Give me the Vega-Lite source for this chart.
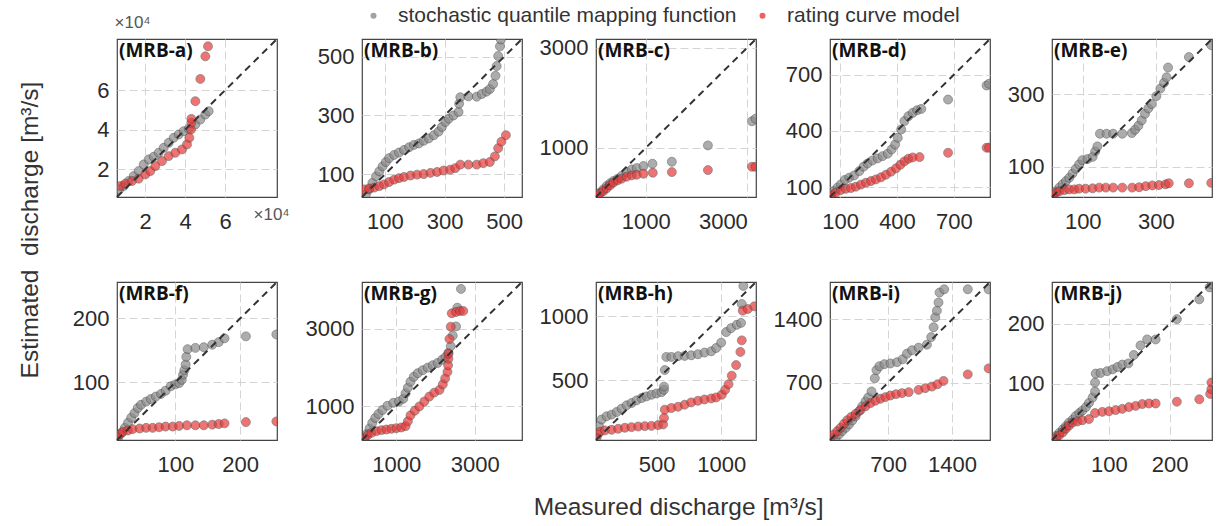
{
"$schema":"https://vega.github.io/schema/vega-lite/v6.json",
"background":"white",
"padding":{"left":18,"top":5,"right":2,"bottom":4},
"title":{"text":"Estimated\u00a0 discharge [m³/s]","orient":"left","anchor":"middle","font":"Liberation Sans","fontSize":24.5,"fontWeight":"normal","color":"#333","offset":28,"dx":32},
"config":{
"view":{"stroke":"#444","strokeWidth":1.2},
"axis":{"grid":true,"gridColor":"#d4d4d4","gridDash":[8,4],"gridWidth":1,"domain":false,"ticks":false,"labelFont":"Liberation Sans","labelFontSize":22,"labelColor":"#2b2b2b","format":"d"},
"axisX":{"labelPadding":14},
"axisY":{"labelPadding":8},
"legend":{"orient":"none","legendX":246,"legendY":-34,"direction":"horizontal","title":null,"labelFont":"Liberation Sans","labelFontSize":21,"labelColor":"#333","labelLimit":0,"symbolType":"circle","symbolSize":36,"symbolStrokeWidth":0,"labelOffset":14,"columnPadding":15,"symbolOpacity":0.8}
},
"data":{"values":[
{"p":"a","m":"stochastic quantile mapping function","x":7170,"y":9870},{"p":"a","m":"stochastic quantile mapping function","x":9330,"y":11560},{"p":"a","m":"stochastic quantile mapping function","x":11830,"y":14080},{"p":"a","m":"stochastic quantile mapping function","x":14340,"y":16610},{"p":"a","m":"stochastic quantile mapping function","x":16840,"y":19140},{"p":"a","m":"stochastic quantile mapping function","x":19340,"y":22500},{"p":"a","m":"stochastic quantile mapping function","x":21840,"y":25030},{"p":"a","m":"stochastic quantile mapping function","x":24340,"y":26380},{"p":"a","m":"stochastic quantile mapping function","x":26840,"y":28400},{"p":"a","m":"stochastic quantile mapping function","x":29340,"y":30920},{"p":"a","m":"stochastic quantile mapping function","x":31840,"y":33450},{"p":"a","m":"stochastic quantile mapping function","x":34340,"y":35980},{"p":"a","m":"stochastic quantile mapping function","x":36840,"y":37660},{"p":"a","m":"stochastic quantile mapping function","x":39340,"y":39340},{"p":"a","m":"stochastic quantile mapping function","x":41840,"y":40520},{"p":"a","m":"stochastic quantile mapping function","x":45170,"y":42710},{"p":"a","m":"stochastic quantile mapping function","x":47670,"y":45240},{"p":"a","m":"stochastic quantile mapping function","x":50170,"y":47760},{"p":"a","m":"stochastic quantile mapping function","x":51840,"y":49450},
{"p":"b","m":"stochastic quantile mapping function","x":36,"y":32},{"p":"b","m":"stochastic quantile mapping function","x":47,"y":49},{"p":"b","m":"stochastic quantile mapping function","x":58,"y":71},{"p":"b","m":"stochastic quantile mapping function","x":70,"y":93},{"p":"b","m":"stochastic quantile mapping function","x":81,"y":110},{"p":"b","m":"stochastic quantile mapping function","x":92,"y":127},{"p":"b","m":"stochastic quantile mapping function","x":103,"y":142},{"p":"b","m":"stochastic quantile mapping function","x":114,"y":155},{"p":"b","m":"stochastic quantile mapping function","x":131,"y":166},{"p":"b","m":"stochastic quantile mapping function","x":147,"y":174},{"p":"b","m":"stochastic quantile mapping function","x":164,"y":183},{"p":"b","m":"stochastic quantile mapping function","x":181,"y":192},{"p":"b","m":"stochastic quantile mapping function","x":197,"y":200},{"p":"b","m":"stochastic quantile mapping function","x":214,"y":205},{"p":"b","m":"stochastic quantile mapping function","x":230,"y":214},{"p":"b","m":"stochastic quantile mapping function","x":247,"y":222},{"p":"b","m":"stochastic quantile mapping function","x":264,"y":233},{"p":"b","m":"stochastic quantile mapping function","x":280,"y":245},{"p":"b","m":"stochastic quantile mapping function","x":291,"y":261},{"p":"b","m":"stochastic quantile mapping function","x":303,"y":278},{"p":"b","m":"stochastic quantile mapping function","x":314,"y":289},{"p":"b","m":"stochastic quantile mapping function","x":330,"y":300},{"p":"b","m":"stochastic quantile mapping function","x":347,"y":312},{"p":"b","m":"stochastic quantile mapping function","x":349,"y":340},{"p":"b","m":"stochastic quantile mapping function","x":353,"y":362},{"p":"b","m":"stochastic quantile mapping function","x":380,"y":365},{"p":"b","m":"stochastic quantile mapping function","x":408,"y":364},{"p":"b","m":"stochastic quantile mapping function","x":425,"y":373},{"p":"b","m":"stochastic quantile mapping function","x":441,"y":381},{"p":"b","m":"stochastic quantile mapping function","x":452,"y":390},{"p":"b","m":"stochastic quantile mapping function","x":463,"y":407},{"p":"b","m":"stochastic quantile mapping function","x":471,"y":435},{"p":"b","m":"stochastic quantile mapping function","x":475,"y":468},{"p":"b","m":"stochastic quantile mapping function","x":480,"y":502},{"p":"b","m":"stochastic quantile mapping function","x":486,"y":535},{"p":"b","m":"stochastic quantile mapping function","x":489,"y":558},
{"p":"c","m":"stochastic quantile mapping function","x":33,"y":40},{"p":"c","m":"stochastic quantile mapping function","x":99,"y":106},{"p":"c","m":"stochastic quantile mapping function","x":165,"y":172},{"p":"c","m":"stochastic quantile mapping function","x":230,"y":239},{"p":"c","m":"stochastic quantile mapping function","x":296,"y":292},{"p":"c","m":"stochastic quantile mapping function","x":362,"y":338},{"p":"c","m":"stochastic quantile mapping function","x":447,"y":385},{"p":"c","m":"stochastic quantile mapping function","x":526,"y":438},{"p":"c","m":"stochastic quantile mapping function","x":625,"y":517},{"p":"c","m":"stochastic quantile mapping function","x":724,"y":570},{"p":"c","m":"stochastic quantile mapping function","x":822,"y":597},{"p":"c","m":"stochastic quantile mapping function","x":954,"y":637},{"p":"c","m":"stochastic quantile mapping function","x":1131,"y":683},{"p":"c","m":"stochastic quantile mapping function","x":1513,"y":723},{"p":"c","m":"stochastic quantile mapping function","x":2223,"y":1048},{"p":"c","m":"stochastic quantile mapping function","x":3090,"y":1530},{"p":"c","m":"stochastic quantile mapping function","x":3160,"y":1580},
{"p":"d","m":"stochastic quantile mapping function","x":54,"y":61},{"p":"d","m":"stochastic quantile mapping function","x":68,"y":79},{"p":"d","m":"stochastic quantile mapping function","x":86,"y":97},{"p":"d","m":"stochastic quantile mapping function","x":104,"y":114},{"p":"d","m":"stochastic quantile mapping function","x":125,"y":138},{"p":"d","m":"stochastic quantile mapping function","x":148,"y":150},{"p":"d","m":"stochastic quantile mapping function","x":174,"y":162},{"p":"d","m":"stochastic quantile mapping function","x":201,"y":185},{"p":"d","m":"stochastic quantile mapping function","x":224,"y":209},{"p":"d","m":"stochastic quantile mapping function","x":245,"y":226},{"p":"d","m":"stochastic quantile mapping function","x":271,"y":242},{"p":"d","m":"stochastic quantile mapping function","x":298,"y":253},{"p":"d","m":"stochastic quantile mapping function","x":324,"y":265},{"p":"d","m":"stochastic quantile mapping function","x":351,"y":278},{"p":"d","m":"stochastic quantile mapping function","x":372,"y":301},{"p":"d","m":"stochastic quantile mapping function","x":390,"y":327},{"p":"d","m":"stochastic quantile mapping function","x":404,"y":363},{"p":"d","m":"stochastic quantile mapping function","x":422,"y":407},{"p":"d","m":"stochastic quantile mapping function","x":439,"y":452},{"p":"d","m":"stochastic quantile mapping function","x":460,"y":478},{"p":"d","m":"stochastic quantile mapping function","x":483,"y":496},{"p":"d","m":"stochastic quantile mapping function","x":506,"y":510},{"p":"d","m":"stochastic quantile mapping function","x":528,"y":517},{"p":"d","m":"stochastic quantile mapping function","x":669,"y":567},{"p":"d","m":"stochastic quantile mapping function","x":872,"y":642},{"p":"d","m":"stochastic quantile mapping function","x":885,"y":651},
{"p":"e","m":"stochastic quantile mapping function","x":20,"y":23},{"p":"e","m":"stochastic quantile mapping function","x":27,"y":32},{"p":"e","m":"stochastic quantile mapping function","x":36,"y":42},{"p":"e","m":"stochastic quantile mapping function","x":45,"y":51},{"p":"e","m":"stochastic quantile mapping function","x":54,"y":60},{"p":"e","m":"stochastic quantile mapping function","x":63,"y":69},{"p":"e","m":"stochastic quantile mapping function","x":72,"y":81},{"p":"e","m":"stochastic quantile mapping function","x":81,"y":94},{"p":"e","m":"stochastic quantile mapping function","x":90,"y":106},{"p":"e","m":"stochastic quantile mapping function","x":99,"y":118},{"p":"e","m":"stochastic quantile mapping function","x":113,"y":121},{"p":"e","m":"stochastic quantile mapping function","x":127,"y":127},{"p":"e","m":"stochastic quantile mapping function","x":134,"y":142},{"p":"e","m":"stochastic quantile mapping function","x":140,"y":156},{"p":"e","m":"stochastic quantile mapping function","x":147,"y":191},{"p":"e","m":"stochastic quantile mapping function","x":165,"y":191},{"p":"e","m":"stochastic quantile mapping function","x":183,"y":191},{"p":"e","m":"stochastic quantile mapping function","x":208,"y":191},{"p":"e","m":"stochastic quantile mapping function","x":234,"y":193},{"p":"e","m":"stochastic quantile mapping function","x":243,"y":202},{"p":"e","m":"stochastic quantile mapping function","x":252,"y":213},{"p":"e","m":"stochastic quantile mapping function","x":261,"y":228},{"p":"e","m":"stochastic quantile mapping function","x":270,"y":246},{"p":"e","m":"stochastic quantile mapping function","x":279,"y":261},{"p":"e","m":"stochastic quantile mapping function","x":288,"y":273},{"p":"e","m":"stochastic quantile mapping function","x":301,"y":295},{"p":"e","m":"stochastic quantile mapping function","x":312,"y":316},{"p":"e","m":"stochastic quantile mapping function","x":322,"y":332},{"p":"e","m":"stochastic quantile mapping function","x":329,"y":347},{"p":"e","m":"stochastic quantile mapping function","x":333,"y":374},{"p":"e","m":"stochastic quantile mapping function","x":390,"y":403},{"p":"e","m":"stochastic quantile mapping function","x":451,"y":436},
{"p":"f","m":"stochastic quantile mapping function","x":12,"y":14},{"p":"f","m":"stochastic quantile mapping function","x":17,"y":21},{"p":"f","m":"stochastic quantile mapping function","x":22,"y":29},{"p":"f","m":"stochastic quantile mapping function","x":27,"y":37},{"p":"f","m":"stochastic quantile mapping function","x":32,"y":45},{"p":"f","m":"stochastic quantile mapping function","x":37,"y":52},{"p":"f","m":"stochastic quantile mapping function","x":42,"y":60},{"p":"f","m":"stochastic quantile mapping function","x":47,"y":65},{"p":"f","m":"stochastic quantile mapping function","x":55,"y":70},{"p":"f","m":"stochastic quantile mapping function","x":62,"y":74},{"p":"f","m":"stochastic quantile mapping function","x":70,"y":78},{"p":"f","m":"stochastic quantile mapping function","x":78,"y":82},{"p":"f","m":"stochastic quantile mapping function","x":85,"y":87},{"p":"f","m":"stochastic quantile mapping function","x":93,"y":94},{"p":"f","m":"stochastic quantile mapping function","x":100,"y":97},{"p":"f","m":"stochastic quantile mapping function","x":106,"y":99},{"p":"f","m":"stochastic quantile mapping function","x":110,"y":104},{"p":"f","m":"stochastic quantile mapping function","x":112,"y":112},{"p":"f","m":"stochastic quantile mapping function","x":114,"y":119},{"p":"f","m":"stochastic quantile mapping function","x":116,"y":128},{"p":"f","m":"stochastic quantile mapping function","x":117,"y":140},{"p":"f","m":"stochastic quantile mapping function","x":119,"y":152},{"p":"f","m":"stochastic quantile mapping function","x":131,"y":154},{"p":"f","m":"stochastic quantile mapping function","x":144,"y":155},{"p":"f","m":"stochastic quantile mapping function","x":157,"y":159},{"p":"f","m":"stochastic quantile mapping function","x":167,"y":163},{"p":"f","m":"stochastic quantile mapping function","x":176,"y":169},{"p":"f","m":"stochastic quantile mapping function","x":209,"y":172},{"p":"f","m":"stochastic quantile mapping function","x":256,"y":175},
{"p":"g","m":"stochastic quantile mapping function","x":189,"y":189},{"p":"g","m":"stochastic quantile mapping function","x":256,"y":291},{"p":"g","m":"stochastic quantile mapping function","x":323,"y":427},{"p":"g","m":"stochastic quantile mapping function","x":390,"y":571},{"p":"g","m":"stochastic quantile mapping function","x":466,"y":698},{"p":"g","m":"stochastic quantile mapping function","x":550,"y":800},{"p":"g","m":"stochastic quantile mapping function","x":650,"y":902},{"p":"g","m":"stochastic quantile mapping function","x":776,"y":1012},{"p":"g","m":"stochastic quantile mapping function","x":927,"y":1088},{"p":"g","m":"stochastic quantile mapping function","x":1070,"y":1122},{"p":"g","m":"stochastic quantile mapping function","x":1179,"y":1190},{"p":"g","m":"stochastic quantile mapping function","x":1238,"y":1334},{"p":"g","m":"stochastic quantile mapping function","x":1297,"y":1478},{"p":"g","m":"stochastic quantile mapping function","x":1364,"y":1631},{"p":"g","m":"stochastic quantile mapping function","x":1448,"y":1758},{"p":"g","m":"stochastic quantile mapping function","x":1548,"y":1851},{"p":"g","m":"stochastic quantile mapping function","x":1674,"y":1928},{"p":"g","m":"stochastic quantile mapping function","x":1800,"y":1995},{"p":"g","m":"stochastic quantile mapping function","x":1926,"y":2055},{"p":"g","m":"stochastic quantile mapping function","x":2052,"y":2114},{"p":"g","m":"stochastic quantile mapping function","x":2169,"y":2199},{"p":"g","m":"stochastic quantile mapping function","x":2253,"y":2267},{"p":"g","m":"stochastic quantile mapping function","x":2329,"y":2377},{"p":"g","m":"stochastic quantile mapping function","x":2388,"y":2546},{"p":"g","m":"stochastic quantile mapping function","x":2438,"y":2818},{"p":"g","m":"stochastic quantile mapping function","x":2522,"y":3055},{"p":"g","m":"stochastic quantile mapping function","x":2555,"y":3539},{"p":"g","m":"stochastic quantile mapping function","x":2648,"y":4022},
{"p":"h","m":"stochastic quantile mapping function","x":43,"y":74},{"p":"h","m":"stochastic quantile mapping function","x":53,"y":139},{"p":"h","m":"stochastic quantile mapping function","x":74,"y":191},{"p":"h","m":"stochastic quantile mapping function","x":112,"y":216},{"p":"h","m":"stochastic quantile mapping function","x":151,"y":229},{"p":"h","m":"stochastic quantile mapping function","x":190,"y":250},{"p":"h","m":"stochastic quantile mapping function","x":228,"y":276},{"p":"h","m":"stochastic quantile mapping function","x":267,"y":302},{"p":"h","m":"stochastic quantile mapping function","x":305,"y":320},{"p":"h","m":"stochastic quantile mapping function","x":344,"y":341},{"p":"h","m":"stochastic quantile mapping function","x":383,"y":359},{"p":"h","m":"stochastic quantile mapping function","x":421,"y":372},{"p":"h","m":"stochastic quantile mapping function","x":460,"y":385},{"p":"h","m":"stochastic quantile mapping function","x":498,"y":395},{"p":"h","m":"stochastic quantile mapping function","x":537,"y":405},{"p":"h","m":"stochastic quantile mapping function","x":557,"y":424},{"p":"h","m":"stochastic quantile mapping function","x":557,"y":449},{"p":"h","m":"stochastic quantile mapping function","x":563,"y":579},{"p":"h","m":"stochastic quantile mapping function","x":575,"y":682},{"p":"h","m":"stochastic quantile mapping function","x":614,"y":682},{"p":"h","m":"stochastic quantile mapping function","x":666,"y":688},{"p":"h","m":"stochastic quantile mapping function","x":717,"y":690},{"p":"h","m":"stochastic quantile mapping function","x":768,"y":695},{"p":"h","m":"stochastic quantile mapping function","x":820,"y":703},{"p":"h","m":"stochastic quantile mapping function","x":871,"y":716},{"p":"h","m":"stochastic quantile mapping function","x":923,"y":726},{"p":"h","m":"stochastic quantile mapping function","x":961,"y":752},{"p":"h","m":"stochastic quantile mapping function","x":1000,"y":794},{"p":"h","m":"stochastic quantile mapping function","x":1039,"y":877},{"p":"h","m":"stochastic quantile mapping function","x":1077,"y":908},{"p":"h","m":"stochastic quantile mapping function","x":1121,"y":934},{"p":"h","m":"stochastic quantile mapping function","x":1154,"y":949},{"p":"h","m":"stochastic quantile mapping function","x":1160,"y":1097},{"p":"h","m":"stochastic quantile mapping function","x":1172,"y":1239},
{"p":"i","m":"stochastic quantile mapping function","x":127,"y":91},{"p":"i","m":"stochastic quantile mapping function","x":163,"y":127},{"p":"i","m":"stochastic quantile mapping function","x":199,"y":164},{"p":"i","m":"stochastic quantile mapping function","x":236,"y":200},{"p":"i","m":"stochastic quantile mapping function","x":272,"y":237},{"p":"i","m":"stochastic quantile mapping function","x":308,"y":281},{"p":"i","m":"stochastic quantile mapping function","x":345,"y":328},{"p":"i","m":"stochastic quantile mapping function","x":381,"y":383},{"p":"i","m":"stochastic quantile mapping function","x":417,"y":438},{"p":"i","m":"stochastic quantile mapping function","x":454,"y":492},{"p":"i","m":"stochastic quantile mapping function","x":483,"y":536},{"p":"i","m":"stochastic quantile mapping function","x":519,"y":602},{"p":"i","m":"stochastic quantile mapping function","x":555,"y":748},{"p":"i","m":"stochastic quantile mapping function","x":573,"y":839},{"p":"i","m":"stochastic quantile mapping function","x":606,"y":883},{"p":"i","m":"stochastic quantile mapping function","x":660,"y":905},{"p":"i","m":"stochastic quantile mapping function","x":726,"y":913},{"p":"i","m":"stochastic quantile mapping function","x":798,"y":927},{"p":"i","m":"stochastic quantile mapping function","x":860,"y":960},{"p":"i","m":"stochastic quantile mapping function","x":907,"y":1022},{"p":"i","m":"stochastic quantile mapping function","x":962,"y":1059},{"p":"i","m":"stochastic quantile mapping function","x":1034,"y":1088},{"p":"i","m":"stochastic quantile mapping function","x":1125,"y":1121},{"p":"i","m":"stochastic quantile mapping function","x":1172,"y":1205},{"p":"i","m":"stochastic quantile mapping function","x":1198,"y":1314},{"p":"i","m":"stochastic quantile mapping function","x":1216,"y":1424},{"p":"i","m":"stochastic quantile mapping function","x":1234,"y":1497},{"p":"i","m":"stochastic quantile mapping function","x":1252,"y":1588},{"p":"i","m":"stochastic quantile mapping function","x":1263,"y":1698},{"p":"i","m":"stochastic quantile mapping function","x":1314,"y":1734},{"p":"i","m":"stochastic quantile mapping function","x":1572,"y":1734},{"p":"i","m":"stochastic quantile mapping function","x":1800,"y":1734},
{"p":"j","m":"stochastic quantile mapping function","x":7,"y":8},{"p":"j","m":"stochastic quantile mapping function","x":13,"y":13},{"p":"j","m":"stochastic quantile mapping function","x":18,"y":18},{"p":"j","m":"stochastic quantile mapping function","x":24,"y":24},{"p":"j","m":"stochastic quantile mapping function","x":29,"y":29},{"p":"j","m":"stochastic quantile mapping function","x":34,"y":35},{"p":"j","m":"stochastic quantile mapping function","x":40,"y":40},{"p":"j","m":"stochastic quantile mapping function","x":45,"y":46},{"p":"j","m":"stochastic quantile mapping function","x":51,"y":51},{"p":"j","m":"stochastic quantile mapping function","x":56,"y":55},{"p":"j","m":"stochastic quantile mapping function","x":62,"y":61},{"p":"j","m":"stochastic quantile mapping function","x":67,"y":68},{"p":"j","m":"stochastic quantile mapping function","x":73,"y":77},{"p":"j","m":"stochastic quantile mapping function","x":77,"y":87},{"p":"j","m":"stochastic quantile mapping function","x":77,"y":102},{"p":"j","m":"stochastic quantile mapping function","x":78,"y":117},{"p":"j","m":"stochastic quantile mapping function","x":86,"y":118},{"p":"j","m":"stochastic quantile mapping function","x":97,"y":121},{"p":"j","m":"stochastic quantile mapping function","x":106,"y":124},{"p":"j","m":"stochastic quantile mapping function","x":114,"y":128},{"p":"j","m":"stochastic quantile mapping function","x":122,"y":132},{"p":"j","m":"stochastic quantile mapping function","x":132,"y":134},{"p":"j","m":"stochastic quantile mapping function","x":141,"y":148},{"p":"j","m":"stochastic quantile mapping function","x":152,"y":164},{"p":"j","m":"stochastic quantile mapping function","x":163,"y":174},{"p":"j","m":"stochastic quantile mapping function","x":177,"y":174},{"p":"j","m":"stochastic quantile mapping function","x":212,"y":208},{"p":"j","m":"stochastic quantile mapping function","x":249,"y":241},{"p":"j","m":"stochastic quantile mapping function","x":266,"y":261},{"p":"j","m":"stochastic quantile mapping function","x":270,"y":266},
{"p":"a","m":"rating curve model","x":7670,"y":11560},{"p":"a","m":"rating curve model","x":10170,"y":12740},{"p":"a","m":"rating curve model","x":13500,"y":14080},{"p":"a","m":"rating curve model","x":16840,"y":15260},{"p":"a","m":"rating curve model","x":20170,"y":17450},{"p":"a","m":"rating curve model","x":22670,"y":19140},{"p":"a","m":"rating curve model","x":25170,"y":21660},{"p":"a","m":"rating curve model","x":28500,"y":24190},{"p":"a","m":"rating curve model","x":31840,"y":26710},{"p":"a","m":"rating curve model","x":35170,"y":28400},{"p":"a","m":"rating curve model","x":38510,"y":30080},{"p":"a","m":"rating curve model","x":41010,"y":32610},{"p":"a","m":"rating curve model","x":42170,"y":35980},{"p":"a","m":"rating curve model","x":43010,"y":40190},{"p":"a","m":"rating curve model","x":43170,"y":43550},{"p":"a","m":"rating curve model","x":43170,"y":45570},{"p":"a","m":"rating curve model","x":45170,"y":54500},{"p":"a","m":"rating curve model","x":47670,"y":65780},{"p":"a","m":"rating curve model","x":50170,"y":77230},{"p":"a","m":"rating curve model","x":51500,"y":82290},
{"p":"b","m":"rating curve model","x":31,"y":49},{"p":"b","m":"rating curve model","x":47,"y":52},{"p":"b","m":"rating curve model","x":64,"y":55},{"p":"b","m":"rating curve model","x":81,"y":60},{"p":"b","m":"rating curve model","x":97,"y":66},{"p":"b","m":"rating curve model","x":114,"y":74},{"p":"b","m":"rating curve model","x":131,"y":82},{"p":"b","m":"rating curve model","x":147,"y":87},{"p":"b","m":"rating curve model","x":164,"y":91},{"p":"b","m":"rating curve model","x":186,"y":96},{"p":"b","m":"rating curve model","x":208,"y":99},{"p":"b","m":"rating curve model","x":230,"y":101},{"p":"b","m":"rating curve model","x":253,"y":105},{"p":"b","m":"rating curve model","x":275,"y":108},{"p":"b","m":"rating curve model","x":297,"y":113},{"p":"b","m":"rating curve model","x":319,"y":116},{"p":"b","m":"rating curve model","x":336,"y":121},{"p":"b","m":"rating curve model","x":353,"y":133},{"p":"b","m":"rating curve model","x":380,"y":133},{"p":"b","m":"rating curve model","x":408,"y":133},{"p":"b","m":"rating curve model","x":430,"y":138},{"p":"b","m":"rating curve model","x":452,"y":142},{"p":"b","m":"rating curve model","x":469,"y":161},{"p":"b","m":"rating curve model","x":480,"y":189},{"p":"b","m":"rating curve model","x":491,"y":211},{"p":"b","m":"rating curve model","x":506,"y":233},
{"p":"c","m":"rating curve model","x":33,"y":40},{"p":"c","m":"rating curve model","x":99,"y":93},{"p":"c","m":"rating curve model","x":165,"y":139},{"p":"c","m":"rating curve model","x":230,"y":192},{"p":"c","m":"rating curve model","x":296,"y":252},{"p":"c","m":"rating curve model","x":362,"y":305},{"p":"c","m":"rating curve model","x":447,"y":352},{"p":"c","m":"rating curve model","x":526,"y":385},{"p":"c","m":"rating curve model","x":625,"y":425},{"p":"c","m":"rating curve model","x":724,"y":451},{"p":"c","m":"rating curve model","x":822,"y":464},{"p":"c","m":"rating curve model","x":954,"y":484},{"p":"c","m":"rating curve model","x":1138,"y":504},{"p":"c","m":"rating curve model","x":1513,"y":517},{"p":"c","m":"rating curve model","x":2223,"y":557},{"p":"c","m":"rating curve model","x":3090,"y":623},{"p":"c","m":"rating curve model","x":3160,"y":623},
{"p":"d","m":"rating curve model","x":54,"y":56},{"p":"d","m":"rating curve model","x":77,"y":70},{"p":"d","m":"rating curve model","x":104,"y":84},{"p":"d","m":"rating curve model","x":130,"y":91},{"p":"d","m":"rating curve model","x":157,"y":95},{"p":"d","m":"rating curve model","x":183,"y":102},{"p":"d","m":"rating curve model","x":210,"y":113},{"p":"d","m":"rating curve model","x":236,"y":123},{"p":"d","m":"rating curve model","x":263,"y":132},{"p":"d","m":"rating curve model","x":289,"y":141},{"p":"d","m":"rating curve model","x":316,"y":152},{"p":"d","m":"rating curve model","x":342,"y":166},{"p":"d","m":"rating curve model","x":369,"y":182},{"p":"d","m":"rating curve model","x":395,"y":200},{"p":"d","m":"rating curve model","x":418,"y":219},{"p":"d","m":"rating curve model","x":439,"y":237},{"p":"d","m":"rating curve model","x":460,"y":251},{"p":"d","m":"rating curve model","x":483,"y":258},{"p":"d","m":"rating curve model","x":519,"y":260},{"p":"d","m":"rating curve model","x":669,"y":283},{"p":"d","m":"rating curve model","x":872,"y":310},{"p":"d","m":"rating curve model","x":885,"y":310},
{"p":"e","m":"rating curve model","x":18,"y":21},{"p":"e","m":"rating curve model","x":27,"y":28},{"p":"e","m":"rating curve model","x":36,"y":32},{"p":"e","m":"rating curve model","x":50,"y":35},{"p":"e","m":"rating curve model","x":63,"y":37},{"p":"e","m":"rating curve model","x":77,"y":37},{"p":"e","m":"rating curve model","x":90,"y":39},{"p":"e","m":"rating curve model","x":108,"y":39},{"p":"e","m":"rating curve model","x":127,"y":40},{"p":"e","m":"rating curve model","x":145,"y":42},{"p":"e","m":"rating curve model","x":163,"y":42},{"p":"e","m":"rating curve model","x":183,"y":42},{"p":"e","m":"rating curve model","x":208,"y":42},{"p":"e","m":"rating curve model","x":235,"y":42},{"p":"e","m":"rating curve model","x":254,"y":43},{"p":"e","m":"rating curve model","x":272,"y":46},{"p":"e","m":"rating curve model","x":290,"y":48},{"p":"e","m":"rating curve model","x":308,"y":49},{"p":"e","m":"rating curve model","x":326,"y":51},{"p":"e","m":"rating curve model","x":335,"y":54},{"p":"e","m":"rating curve model","x":390,"y":54},{"p":"e","m":"rating curve model","x":451,"y":55},
{"p":"f","m":"rating curve model","x":10,"y":14},{"p":"f","m":"rating curve model","x":14,"y":19},{"p":"f","m":"rating curve model","x":19,"y":23},{"p":"f","m":"rating curve model","x":27,"y":25},{"p":"f","m":"rating curve model","x":34,"y":27},{"p":"f","m":"rating curve model","x":45,"y":28},{"p":"f","m":"rating curve model","x":55,"y":29},{"p":"f","m":"rating curve model","x":65,"y":29},{"p":"f","m":"rating curve model","x":75,"y":30},{"p":"f","m":"rating curve model","x":85,"y":31},{"p":"f","m":"rating curve model","x":96,"y":31},{"p":"f","m":"rating curve model","x":106,"y":32},{"p":"f","m":"rating curve model","x":118,"y":33},{"p":"f","m":"rating curve model","x":131,"y":33},{"p":"f","m":"rating curve model","x":144,"y":33},{"p":"f","m":"rating curve model","x":157,"y":34},{"p":"f","m":"rating curve model","x":167,"y":35},{"p":"f","m":"rating curve model","x":176,"y":36},{"p":"f","m":"rating curve model","x":209,"y":38},{"p":"f","m":"rating curve model","x":256,"y":39},
{"p":"g","m":"rating curve model","x":189,"y":164},{"p":"g","m":"rating curve model","x":273,"y":257},{"p":"g","m":"rating curve model","x":373,"y":317},{"p":"g","m":"rating curve model","x":499,"y":359},{"p":"g","m":"rating curve model","x":625,"y":384},{"p":"g","m":"rating curve model","x":751,"y":401},{"p":"g","m":"rating curve model","x":877,"y":418},{"p":"g","m":"rating curve model","x":1003,"y":435},{"p":"g","m":"rating curve model","x":1129,"y":452},{"p":"g","m":"rating curve model","x":1238,"y":486},{"p":"g","m":"rating curve model","x":1297,"y":613},{"p":"g","m":"rating curve model","x":1364,"y":766},{"p":"g","m":"rating curve model","x":1473,"y":885},{"p":"g","m":"rating curve model","x":1590,"y":995},{"p":"g","m":"rating curve model","x":1716,"y":1122},{"p":"g","m":"rating curve model","x":1842,"y":1249},{"p":"g","m":"rating curve model","x":1968,"y":1351},{"p":"g","m":"rating curve model","x":2102,"y":1419},{"p":"g","m":"rating curve model","x":2186,"y":1563},{"p":"g","m":"rating curve model","x":2245,"y":1716},{"p":"g","m":"rating curve model","x":2304,"y":1885},{"p":"g","m":"rating curve model","x":2320,"y":2055},{"p":"g","m":"rating curve model","x":2329,"y":2224},{"p":"g","m":"rating curve model","x":2329,"y":2352},{"p":"g","m":"rating curve model","x":2354,"y":2733},{"p":"g","m":"rating curve model","x":2388,"y":3047},{"p":"g","m":"rating curve model","x":2413,"y":3394},{"p":"g","m":"rating curve model","x":2522,"y":3428},{"p":"g","m":"rating curve model","x":2622,"y":3454},{"p":"g","m":"rating curve model","x":2706,"y":3454},
{"p":"h","m":"rating curve model","x":35,"y":48},{"p":"h","m":"rating curve model","x":61,"y":95},{"p":"h","m":"rating curve model","x":99,"y":105},{"p":"h","m":"rating curve model","x":151,"y":110},{"p":"h","m":"rating curve model","x":202,"y":118},{"p":"h","m":"rating curve model","x":254,"y":126},{"p":"h","m":"rating curve model","x":305,"y":131},{"p":"h","m":"rating curve model","x":357,"y":136},{"p":"h","m":"rating curve model","x":408,"y":139},{"p":"h","m":"rating curve model","x":460,"y":141},{"p":"h","m":"rating curve model","x":511,"y":147},{"p":"h","m":"rating curve model","x":550,"y":152},{"p":"h","m":"rating curve model","x":557,"y":203},{"p":"h","m":"rating curve model","x":563,"y":268},{"p":"h","m":"rating curve model","x":614,"y":281},{"p":"h","m":"rating curve model","x":666,"y":291},{"p":"h","m":"rating curve model","x":717,"y":307},{"p":"h","m":"rating curve model","x":768,"y":325},{"p":"h","m":"rating curve model","x":820,"y":338},{"p":"h","m":"rating curve model","x":871,"y":348},{"p":"h","m":"rating curve model","x":923,"y":356},{"p":"h","m":"rating curve model","x":961,"y":364},{"p":"h","m":"rating curve model","x":1005,"y":385},{"p":"h","m":"rating curve model","x":1031,"y":424},{"p":"h","m":"rating curve model","x":1057,"y":468},{"p":"h","m":"rating curve model","x":1082,"y":535},{"p":"h","m":"rating curve model","x":1116,"y":618},{"p":"h","m":"rating curve model","x":1149,"y":721},{"p":"h","m":"rating curve model","x":1160,"y":812},{"p":"h","m":"rating curve model","x":1167,"y":1045},{"p":"h","m":"rating curve model","x":1206,"y":1058},{"p":"h","m":"rating curve model","x":1257,"y":1079},
{"p":"i","m":"rating curve model","x":72,"y":91},{"p":"i","m":"rating curve model","x":109,"y":127},{"p":"i","m":"rating curve model","x":145,"y":164},{"p":"i","m":"rating curve model","x":181,"y":200},{"p":"i","m":"rating curve model","x":218,"y":244},{"p":"i","m":"rating curve model","x":254,"y":284},{"p":"i","m":"rating curve model","x":297,"y":321},{"p":"i","m":"rating curve model","x":345,"y":354},{"p":"i","m":"rating curve model","x":399,"y":397},{"p":"i","m":"rating curve model","x":454,"y":438},{"p":"i","m":"rating curve model","x":508,"y":474},{"p":"i","m":"rating curve model","x":562,"y":500},{"p":"i","m":"rating curve model","x":617,"y":522},{"p":"i","m":"rating curve model","x":671,"y":540},{"p":"i","m":"rating curve model","x":726,"y":558},{"p":"i","m":"rating curve model","x":788,"y":573},{"p":"i","m":"rating curve model","x":853,"y":584},{"p":"i","m":"rating curve model","x":926,"y":595},{"p":"i","m":"rating curve model","x":1034,"y":620},{"p":"i","m":"rating curve model","x":1107,"y":639},{"p":"i","m":"rating curve model","x":1180,"y":657},{"p":"i","m":"rating curve model","x":1241,"y":682},{"p":"i","m":"rating curve model","x":1307,"y":719},{"p":"i","m":"rating curve model","x":1572,"y":792},{"p":"i","m":"rating curve model","x":1800,"y":858},
{"p":"j","m":"rating curve model","x":7,"y":7},{"p":"j","m":"rating curve model","x":13,"y":10},{"p":"j","m":"rating curve model","x":18,"y":14},{"p":"j","m":"rating curve model","x":24,"y":19},{"p":"j","m":"rating curve model","x":29,"y":25},{"p":"j","m":"rating curve model","x":34,"y":30},{"p":"j","m":"rating curve model","x":40,"y":35},{"p":"j","m":"rating curve model","x":48,"y":37},{"p":"j","m":"rating curve model","x":56,"y":39},{"p":"j","m":"rating curve model","x":67,"y":41},{"p":"j","m":"rating curve model","x":77,"y":51},{"p":"j","m":"rating curve model","x":89,"y":53},{"p":"j","m":"rating curve model","x":100,"y":54},{"p":"j","m":"rating curve model","x":111,"y":56},{"p":"j","m":"rating curve model","x":122,"y":58},{"p":"j","m":"rating curve model","x":133,"y":61},{"p":"j","m":"rating curve model","x":144,"y":63},{"p":"j","m":"rating curve model","x":155,"y":66},{"p":"j","m":"rating curve model","x":166,"y":67},{"p":"j","m":"rating curve model","x":177,"y":67},{"p":"j","m":"rating curve model","x":212,"y":70},{"p":"j","m":"rating curve model","x":249,"y":74},{"p":"j","m":"rating curve model","x":267,"y":83},{"p":"j","m":"rating curve model","x":269,"y":91},{"p":"j","m":"rating curve model","x":269,"y":102}
]},
"vconcat":[{
"title":{"text":"Measured discharge [m³/s]","orient":"bottom","anchor":"middle","font":"Liberation Sans","fontSize":24.5,"fontWeight":"normal","color":"#333","offset":20,"dx":36},
"columns":5,
"align":"each",
"spacing":{"row":47,"column":14},
"concat":[
{"width":160,"height":158,"layer":[
{"transform":[{"filter":"datum.p=='a'"}],"mark":{"type":"circle","size":80,"opacity":0.7,"stroke":"#444","strokeWidth":0.7,"clip":true},"encoding":{"x":{"field":"x","type":"quantitative","scale":{"domain":[6000,86000],"nice":false,"zero":false},"axis":{"values":[20000,40000,60000],"labelExpr":"datum.value/10000","title":"×10⁴","titleFont":"Liberation Sans","titleFontSize":17,"titleFontWeight":"normal","titleColor":"#555","titleX":136,"titleY":17,"titleAlign":"left","titleBaseline":"middle","titleAngle":0}},"y":{"field":"y","type":"quantitative","scale":{"domain":[6000,86000],"nice":false,"zero":false},"axis":{"values":[20000,40000,60000],"labelExpr":"datum.value/10000","title":"×10⁴","titleFont":"Liberation Sans","titleFontSize":17,"titleFontWeight":"normal","titleColor":"#555","titleX":-3,"titleY":-17,"titleAlign":"left","titleBaseline":"middle","titleAngle":0}},"color":{"field":"m","type":"nominal","scale":{"domain":["stochastic quantile mapping function","rating curve model"],"range":["#8a8a8a","#e83a3a"]}}}},
{"data":{"values":[{}]},"mark":{"type":"rule","strokeDash":[7,5],"color":"#333","strokeWidth":2},"encoding":{"x":{"datum":6000,"type":"quantitative","scale":{"domain":[6000,86000],"nice":false,"zero":false}},"y":{"datum":6000,"type":"quantitative","scale":{"domain":[6000,86000],"nice":false,"zero":false}},"x2":{"datum":86000},"y2":{"datum":86000}}},
{"data":{"values":[{}]},"mark":{"type":"text","text":"(MRB-a)","align":"left","baseline":"top","dx":2,"dy":3,"font":"Open Sans","fontWeight":"bold","fontSize":19,"color":"#111"},"encoding":{"x":{"datum":6000,"type":"quantitative"},"y":{"datum":86000,"type":"quantitative"}}}
]},
{"width":160,"height":158,"layer":[
{"transform":[{"filter":"datum.p=='b'"}],"mark":{"type":"circle","size":80,"opacity":0.7,"stroke":"#444","strokeWidth":0.7,"clip":true},"encoding":{"x":{"field":"x","type":"quantitative","scale":{"domain":[23,560],"nice":false,"zero":false},"axis":{"values":[100,300,500],"title":null}},"y":{"field":"y","type":"quantitative","scale":{"domain":[23,560],"nice":false,"zero":false},"axis":{"values":[100,300,500],"title":null}},"color":{"field":"m","type":"nominal","scale":{"domain":["stochastic quantile mapping function","rating curve model"],"range":["#8a8a8a","#e83a3a"]}}}},
{"data":{"values":[{}]},"mark":{"type":"rule","strokeDash":[7,5],"color":"#333","strokeWidth":2},"encoding":{"x":{"datum":23,"type":"quantitative","scale":{"domain":[23,560],"nice":false,"zero":false}},"y":{"datum":23,"type":"quantitative","scale":{"domain":[23,560],"nice":false,"zero":false}},"x2":{"datum":560},"y2":{"datum":560}}},
{"data":{"values":[{}]},"mark":{"type":"text","text":"(MRB-b)","align":"left","baseline":"top","dx":2,"dy":3,"font":"Open Sans","fontWeight":"bold","fontSize":19,"color":"#111"},"encoding":{"x":{"datum":23,"type":"quantitative"},"y":{"datum":560,"type":"quantitative"}}}
]},
{"width":160,"height":158,"layer":[
{"transform":[{"filter":"datum.p=='c'"}],"mark":{"type":"circle","size":80,"opacity":0.7,"stroke":"#444","strokeWidth":0.7,"clip":true},"encoding":{"x":{"field":"x","type":"quantitative","scale":{"domain":[20,3170],"nice":false,"zero":false},"axis":{"values":[1000,3000],"title":null,"labelFlush":10}},"y":{"field":"y","type":"quantitative","scale":{"domain":[20,3170],"nice":false,"zero":false},"axis":{"values":[1000,3000],"title":null}},"color":{"field":"m","type":"nominal","scale":{"domain":["stochastic quantile mapping function","rating curve model"],"range":["#8a8a8a","#e83a3a"]}}}},
{"data":{"values":[{}]},"mark":{"type":"rule","strokeDash":[7,5],"color":"#333","strokeWidth":2},"encoding":{"x":{"datum":20,"type":"quantitative","scale":{"domain":[20,3170],"nice":false,"zero":false}},"y":{"datum":20,"type":"quantitative","scale":{"domain":[20,3170],"nice":false,"zero":false}},"x2":{"datum":3170},"y2":{"datum":3170}}},
{"data":{"values":[{}]},"mark":{"type":"text","text":"(MRB-c)","align":"left","baseline":"top","dx":2,"dy":3,"font":"Open Sans","fontWeight":"bold","fontSize":19,"color":"#111"},"encoding":{"x":{"datum":20,"type":"quantitative"},"y":{"datum":3170,"type":"quantitative"}}}
]},
{"width":160,"height":158,"layer":[
{"transform":[{"filter":"datum.p=='d'"}],"mark":{"type":"circle","size":80,"opacity":0.7,"stroke":"#444","strokeWidth":0.7,"clip":true},"encoding":{"x":{"field":"x","type":"quantitative","scale":{"domain":[47,890],"nice":false,"zero":false},"axis":{"values":[100,400,700],"title":null}},"y":{"field":"y","type":"quantitative","scale":{"domain":[47,890],"nice":false,"zero":false},"axis":{"values":[100,400,700],"title":null}},"color":{"field":"m","type":"nominal","scale":{"domain":["stochastic quantile mapping function","rating curve model"],"range":["#8a8a8a","#e83a3a"]}}}},
{"data":{"values":[{}]},"mark":{"type":"rule","strokeDash":[7,5],"color":"#333","strokeWidth":2},"encoding":{"x":{"datum":47,"type":"quantitative","scale":{"domain":[47,890],"nice":false,"zero":false}},"y":{"datum":47,"type":"quantitative","scale":{"domain":[47,890],"nice":false,"zero":false}},"x2":{"datum":890},"y2":{"datum":890}}},
{"data":{"values":[{}]},"mark":{"type":"text","text":"(MRB-d)","align":"left","baseline":"top","dx":2,"dy":3,"font":"Open Sans","fontWeight":"bold","fontSize":19,"color":"#111"},"encoding":{"x":{"datum":47,"type":"quantitative"},"y":{"datum":890,"type":"quantitative"}}}
]},
{"width":160,"height":158,"layer":[
{"transform":[{"filter":"datum.p=='e'"}],"mark":{"type":"circle","size":80,"opacity":0.7,"stroke":"#444","strokeWidth":0.7,"clip":true},"encoding":{"x":{"field":"x","type":"quantitative","scale":{"domain":[16,453],"nice":false,"zero":false},"axis":{"values":[100,300],"title":null}},"y":{"field":"y","type":"quantitative","scale":{"domain":[16,453],"nice":false,"zero":false},"axis":{"values":[100,300],"title":null}},"color":{"field":"m","type":"nominal","scale":{"domain":["stochastic quantile mapping function","rating curve model"],"range":["#8a8a8a","#e83a3a"]}}}},
{"data":{"values":[{}]},"mark":{"type":"rule","strokeDash":[7,5],"color":"#333","strokeWidth":2},"encoding":{"x":{"datum":16,"type":"quantitative","scale":{"domain":[16,453],"nice":false,"zero":false}},"y":{"datum":16,"type":"quantitative","scale":{"domain":[16,453],"nice":false,"zero":false}},"x2":{"datum":453},"y2":{"datum":453}}},
{"data":{"values":[{}]},"mark":{"type":"text","text":"(MRB-e)","align":"left","baseline":"top","dx":2,"dy":3,"font":"Open Sans","fontWeight":"bold","fontSize":19,"color":"#111"},"encoding":{"x":{"datum":16,"type":"quantitative"},"y":{"datum":453,"type":"quantitative"}}}
]},
{"width":160,"height":158,"layer":[
{"transform":[{"filter":"datum.p=='f'"}],"mark":{"type":"circle","size":80,"opacity":0.7,"stroke":"#444","strokeWidth":0.7,"clip":true},"encoding":{"x":{"field":"x","type":"quantitative","scale":{"domain":[10,257],"nice":false,"zero":false},"axis":{"values":[100,200],"title":null}},"y":{"field":"y","type":"quantitative","scale":{"domain":[10,257],"nice":false,"zero":false},"axis":{"values":[100,200],"title":null}},"color":{"field":"m","type":"nominal","scale":{"domain":["stochastic quantile mapping function","rating curve model"],"range":["#8a8a8a","#e83a3a"]}}}},
{"data":{"values":[{}]},"mark":{"type":"rule","strokeDash":[7,5],"color":"#333","strokeWidth":2},"encoding":{"x":{"datum":10,"type":"quantitative","scale":{"domain":[10,257],"nice":false,"zero":false}},"y":{"datum":10,"type":"quantitative","scale":{"domain":[10,257],"nice":false,"zero":false}},"x2":{"datum":257},"y2":{"datum":257}}},
{"data":{"values":[{}]},"mark":{"type":"text","text":"(MRB-f)","align":"left","baseline":"top","dx":2,"dy":3,"font":"Open Sans","fontWeight":"bold","fontSize":19,"color":"#111"},"encoding":{"x":{"datum":10,"type":"quantitative"},"y":{"datum":257,"type":"quantitative"}}}
]},
{"width":160,"height":158,"layer":[
{"transform":[{"filter":"datum.p=='g'"}],"mark":{"type":"circle","size":80,"opacity":0.7,"stroke":"#444","strokeWidth":0.7,"clip":true},"encoding":{"x":{"field":"x","type":"quantitative","scale":{"domain":[130,4200],"nice":false,"zero":false},"axis":{"values":[1000,3000],"title":null}},"y":{"field":"y","type":"quantitative","scale":{"domain":[130,4200],"nice":false,"zero":false},"axis":{"values":[1000,3000],"title":null}},"color":{"field":"m","type":"nominal","scale":{"domain":["stochastic quantile mapping function","rating curve model"],"range":["#8a8a8a","#e83a3a"]}}}},
{"data":{"values":[{}]},"mark":{"type":"rule","strokeDash":[7,5],"color":"#333","strokeWidth":2},"encoding":{"x":{"datum":130,"type":"quantitative","scale":{"domain":[130,4200],"nice":false,"zero":false}},"y":{"datum":130,"type":"quantitative","scale":{"domain":[130,4200],"nice":false,"zero":false}},"x2":{"datum":4200},"y2":{"datum":4200}}},
{"data":{"values":[{}]},"mark":{"type":"text","text":"(MRB-g)","align":"left","baseline":"top","dx":2,"dy":3,"font":"Open Sans","fontWeight":"bold","fontSize":19,"color":"#111"},"encoding":{"x":{"datum":130,"type":"quantitative"},"y":{"datum":4200,"type":"quantitative"}}}
]},
{"width":160,"height":158,"layer":[
{"transform":[{"filter":"datum.p=='h'"}],"mark":{"type":"circle","size":80,"opacity":0.7,"stroke":"#444","strokeWidth":0.7,"clip":true},"encoding":{"x":{"field":"x","type":"quantitative","scale":{"domain":[30,1270],"nice":false,"zero":false},"axis":{"values":[500,1000],"title":null}},"y":{"field":"y","type":"quantitative","scale":{"domain":[30,1270],"nice":false,"zero":false},"axis":{"values":[500,1000],"title":null}},"color":{"field":"m","type":"nominal","scale":{"domain":["stochastic quantile mapping function","rating curve model"],"range":["#8a8a8a","#e83a3a"]}}}},
{"data":{"values":[{}]},"mark":{"type":"rule","strokeDash":[7,5],"color":"#333","strokeWidth":2},"encoding":{"x":{"datum":30,"type":"quantitative","scale":{"domain":[30,1270],"nice":false,"zero":false}},"y":{"datum":30,"type":"quantitative","scale":{"domain":[30,1270],"nice":false,"zero":false}},"x2":{"datum":1270},"y2":{"datum":1270}}},
{"data":{"values":[{}]},"mark":{"type":"text","text":"(MRB-h)","align":"left","baseline":"top","dx":2,"dy":3,"font":"Open Sans","fontWeight":"bold","fontSize":19,"color":"#111"},"encoding":{"x":{"datum":30,"type":"quantitative"},"y":{"datum":1270,"type":"quantitative"}}}
]},
{"width":160,"height":158,"layer":[
{"transform":[{"filter":"datum.p=='i'"}],"mark":{"type":"circle","size":80,"opacity":0.7,"stroke":"#444","strokeWidth":0.7,"clip":true},"encoding":{"x":{"field":"x","type":"quantitative","scale":{"domain":[65,1815],"nice":false,"zero":false},"axis":{"values":[700,1400],"title":null}},"y":{"field":"y","type":"quantitative","scale":{"domain":[65,1815],"nice":false,"zero":false},"axis":{"values":[700,1400],"title":null}},"color":{"field":"m","type":"nominal","scale":{"domain":["stochastic quantile mapping function","rating curve model"],"range":["#8a8a8a","#e83a3a"]}}}},
{"data":{"values":[{}]},"mark":{"type":"rule","strokeDash":[7,5],"color":"#333","strokeWidth":2},"encoding":{"x":{"datum":65,"type":"quantitative","scale":{"domain":[65,1815],"nice":false,"zero":false}},"y":{"datum":65,"type":"quantitative","scale":{"domain":[65,1815],"nice":false,"zero":false}},"x2":{"datum":1815},"y2":{"datum":1815}}},
{"data":{"values":[{}]},"mark":{"type":"text","text":"(MRB-i)","align":"left","baseline":"top","dx":2,"dy":3,"font":"Open Sans","fontWeight":"bold","fontSize":19,"color":"#111"},"encoding":{"x":{"datum":65,"type":"quantitative"},"y":{"datum":1815,"type":"quantitative"}}}
]},
{"width":160,"height":158,"layer":[
{"transform":[{"filter":"datum.p=='j'"}],"mark":{"type":"circle","size":80,"opacity":0.7,"stroke":"#444","strokeWidth":0.7,"clip":true},"encoding":{"x":{"field":"x","type":"quantitative","scale":{"domain":[6,270],"nice":false,"zero":false},"axis":{"values":[100,200],"title":null}},"y":{"field":"y","type":"quantitative","scale":{"domain":[6,270],"nice":false,"zero":false},"axis":{"values":[100,200],"title":null}},"color":{"field":"m","type":"nominal","scale":{"domain":["stochastic quantile mapping function","rating curve model"],"range":["#8a8a8a","#e83a3a"]}}}},
{"data":{"values":[{}]},"mark":{"type":"rule","strokeDash":[7,5],"color":"#333","strokeWidth":2},"encoding":{"x":{"datum":6,"type":"quantitative","scale":{"domain":[6,270],"nice":false,"zero":false}},"y":{"datum":6,"type":"quantitative","scale":{"domain":[6,270],"nice":false,"zero":false}},"x2":{"datum":270},"y2":{"datum":270}}},
{"data":{"values":[{}]},"mark":{"type":"text","text":"(MRB-j)","align":"left","baseline":"top","dx":2,"dy":3,"font":"Open Sans","fontWeight":"bold","fontSize":19,"color":"#111"},"encoding":{"x":{"datum":6,"type":"quantitative"},"y":{"datum":270,"type":"quantitative"}}}
]}
]}]
}
